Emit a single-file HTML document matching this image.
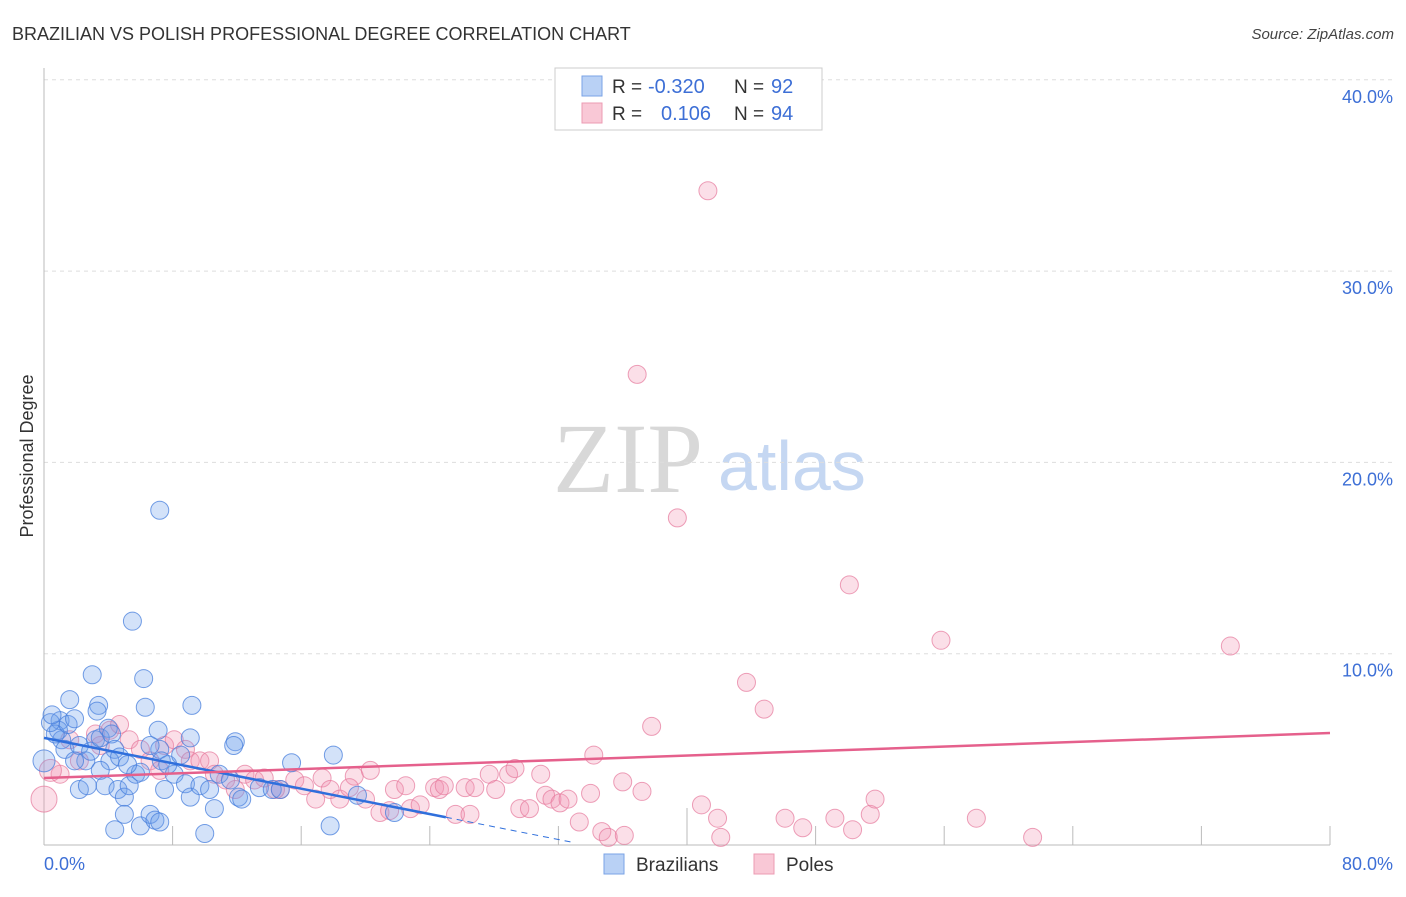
<!DOCTYPE html>
<html><head><meta charset="utf-8"><style>
body{margin:0;background:#fff;font-family:"Liberation Sans",sans-serif;}
svg text{font-family:"Liberation Sans",sans-serif;}
</style></head><body>
<svg id="chart" width="1406" height="892" xmlns="http://www.w3.org/2000/svg">
<text x="12" y="40" font-size="18" fill="#333">BRAZILIAN VS POLISH PROFESSIONAL DEGREE CORRELATION CHART</text>
<text x="1394" y="39" font-size="15" fill="#444" text-anchor="end" font-style="italic">Source: ZipAtlas.com</text>
<text x="553" y="492" font-size="100" fill="#d8d8d8" style="font-family:'Liberation Serif',serif">ZIP</text>
<text x="718" y="490" font-size="70" fill="#c5d7f2">atlas</text>
<text transform="translate(33,456) rotate(-90)" font-size="18" fill="#333" text-anchor="middle">Professional Degree</text>
<g id="grid"></g>
<g id="axes"></g>
<g id="pink"></g>
<g id="blue"></g>
<g id="trends"></g>
<g>
<rect x="555" y="68" width="267" height="62" fill="#fff" stroke="#ccc"/>
<rect x="582" y="76" width="20" height="20" fill="#b9d1f5" stroke="#7aa3e6"/>
<rect x="582" y="103" width="20" height="20" fill="#f9c8d6" stroke="#ec9bb3"/>
<text x="612" y="93" font-size="19" fill="#333">R =</text>
<text x="648" y="93" font-size="20" fill="#3d6fd6">-0.320</text>
<text x="734" y="93" font-size="19" fill="#333">N =</text>
<text x="771" y="93" font-size="20" fill="#3d6fd6">92</text>
<text x="612" y="120" font-size="19" fill="#333">R =</text>
<text x="661" y="120" font-size="20" fill="#3d6fd6">0.106</text>
<text x="734" y="120" font-size="19" fill="#333">N =</text>
<text x="771" y="120" font-size="20" fill="#3d6fd6">94</text>
</g>
<g>
<rect x="604" y="854" width="20" height="20" fill="#b9d1f5" stroke="#7aa3e6"/>
<text x="636" y="871" font-size="19" fill="#333">Brazilians</text>
<rect x="754" y="854" width="20" height="20" fill="#f9c8d6" stroke="#ec9bb3"/>
<text x="786" y="871" font-size="19" fill="#333">Poles</text>
</g>
</svg>
<script>
const yTicks=[10,20,30,40];
const yTickLabels=["10.0%","20.0%","30.0%","40.0%"];
const xTicks=[0,8,16,24,32,40,48,56,64,72,80];
const blueX=[1.0,0.9,1.1,0.7,1.5,1.9,1.3,2.2,2.6,2.9,3.2,3.5,3.0,3.4,4.0,4.2,4.4,4.1,3.5,3.8,4.6,5.0,5.3,5.7,6.0,5.0,4.4,6.0,6.6,6.9,7.2,6.3,6.2,5.5,7.2,7.1,7.2,7.5,8.1,8.8,9.1,9.2,9.1,9.7,10.0,10.3,10.6,10.9,11.6,11.9,11.8,12.1,12.3,13.4,14.2,14.7,15.4,18.0,17.8,19.5,21.8,0.0,1.6,0.4,2.2,2.7,6.6,7.3,7.7,8.5,4.7,5.2,1.9,0.5,3.3];
const blueY=[6.5,6.0,5.5,5.8,6.3,6.6,5.0,5.2,4.4,4.9,5.5,5.6,8.9,7.3,6.1,5.8,5.0,4.4,3.9,3.1,2.9,2.5,3.1,3.7,3.8,1.6,0.8,1.0,1.6,1.3,1.2,7.2,8.7,11.7,17.5,6.0,5.0,2.9,3.7,3.2,2.5,7.3,5.6,3.1,0.6,2.9,1.9,3.7,3.4,5.4,5.2,2.5,2.4,3.0,2.9,2.9,4.3,4.7,1.0,2.6,1.7,4.4,7.6,6.4,2.9,3.1,5.2,4.4,4.2,4.7,4.6,4.2,4.4,6.8,7.0];
const pinkX=[41.3,36.9,39.4,50.1,55.8,73.8,43.7,44.8,37.8,34.2,0,1.0,2.2,3.2,4.1,4.7,5.3,6.0,6.6,7.5,8.1,8.8,9.1,9.7,10.3,10.6,11.3,11.9,12.5,13.1,13.7,14.7,15.6,16.2,16.9,17.3,17.8,18.4,19.3,20.0,20.3,20.9,21.5,21.8,22.5,22.8,23.4,24.3,24.6,24.9,25.6,26.2,26.8,27.7,28.1,28.9,29.3,29.6,30.2,30.9,31.2,31.6,32.1,32.6,33.3,34.0,34.7,35.1,36.1,37.2,36.0,40.9,41.9,42.1,46.1,47.2,49.2,50.3,51.4,51.7,58.0,61.5,26.5,19.0,14.4,7.2,3.5,1.6,0.4];
const pinkY=[34.2,24.6,17.1,13.6,10.7,10.4,8.5,7.1,6.2,4.7,2.4,3.7,4.4,5.8,6.0,6.3,5.5,5.0,4.4,5.2,5.5,5.0,4.4,4.4,4.4,3.7,3.4,2.9,3.7,3.4,3.5,2.9,3.4,3.1,2.4,3.5,2.9,2.4,3.6,2.4,3.9,1.7,1.8,2.9,3.1,1.9,2.1,3.0,2.9,3.1,1.6,3.0,3.0,3.7,2.9,3.7,4.0,1.9,1.9,3.7,2.6,2.4,2.2,2.4,1.2,2.7,0.7,0.4,0.5,2.8,3.3,2.1,1.4,0.4,1.4,0.9,1.4,0.8,1.6,2.4,1.4,0.4,1.6,3.0,2.9,3.9,5.2,5.5,3.9];
const blueTrend=[5.6,-0.166];
const pinkTrend=[3.5,0.0294];
const X0=44,X1=1330,Y0=845,YPX=19.13;
const sx=v=>X0+v*(X1-X0)/80, sy=v=>Y0-v*YPX;
const NS="http://www.w3.org/2000/svg";
function mk(t,a,p){const e=document.createElementNS(NS,t);for(const k in a)e.setAttribute(k,a[k]);p.appendChild(e);return e;}
const grid=document.getElementById('grid'),axes=document.getElementById('axes');
yTicks.forEach((t,i)=>{
 const l=mk('line',{x1:X0,x2:1394,y1:sy(t),y2:sy(t),stroke:'#ddd','stroke-dasharray':'4,4'},grid);
 
 
 const tx=mk('text',{x:1393,y:sy(t)+23,'font-size':18,fill:'#3d6fd6','text-anchor':'end'},axes);
 tx.textContent=yTickLabels[i];
 
 
});
const al=mk('line',{x1:X0,x2:X0,y1:68,y2:Y0,stroke:'#bbb'},axes);


const bl=mk('line',{x1:X0,x2:X1,y1:Y0,y2:Y0,stroke:'#bbb'},axes);


xTicks.forEach(t=>{
 const l=mk('line',{x1:sx(t),x2:sx(t),y1:t==40?808:826,y2:Y0,stroke:'#bbb'},axes);
 
 
});
const xl=mk('text',{x:44,y:870,'font-size':18,fill:'#3d6fd6'},axes);xl.textContent='0.0%';


const xr=mk('text',{x:1393,y:870,'font-size':18,fill:'#3d6fd6','text-anchor':'end'},axes);xr.textContent='80.0%';


const pg=document.getElementById('pink');
pinkX.forEach((x,i)=>{
 const r=(i==10)?13:(i==88?11:9);
 const c=mk('circle',{cx:sx(x),cy:sy(pinkY[i]),r:r,fill:'rgba(243,150,180,0.3)',stroke:'rgba(230,120,155,0.7)','stroke-width':1},pg);
 
 
});
const bg=document.getElementById('blue');
blueX.forEach((x,i)=>{
 const c=mk('circle',{cx:sx(x),cy:sy(blueY[i]),r:(i==61?11:9),fill:'rgba(110,160,235,0.3)',stroke:'rgba(70,125,220,0.75)','stroke-width':1},bg);
 
 
});
const tg=document.getElementById('trends');
const bt=mk('line',{x1:sx(0),y1:sy(blueTrend[0]),x2:sx(25),y2:sy(blueTrend[0]+25*blueTrend[1]),stroke:'#2f6fdc','stroke-width':2.5},tg);


const bd=mk('line',{x1:sx(25),y1:sy(blueTrend[0]+25*blueTrend[1]),x2:sx(33),y2:sy(blueTrend[0]+33*blueTrend[1]),stroke:'#2f6fdc','stroke-width':1,'stroke-dasharray':'6,5'},tg);


const pt=mk('line',{x1:sx(0),y1:sy(pinkTrend[0]),x2:sx(80),y2:sy(pinkTrend[0]+80*pinkTrend[1]),stroke:'#e5608c','stroke-width':2.5},tg);


</script>
</body></html>
